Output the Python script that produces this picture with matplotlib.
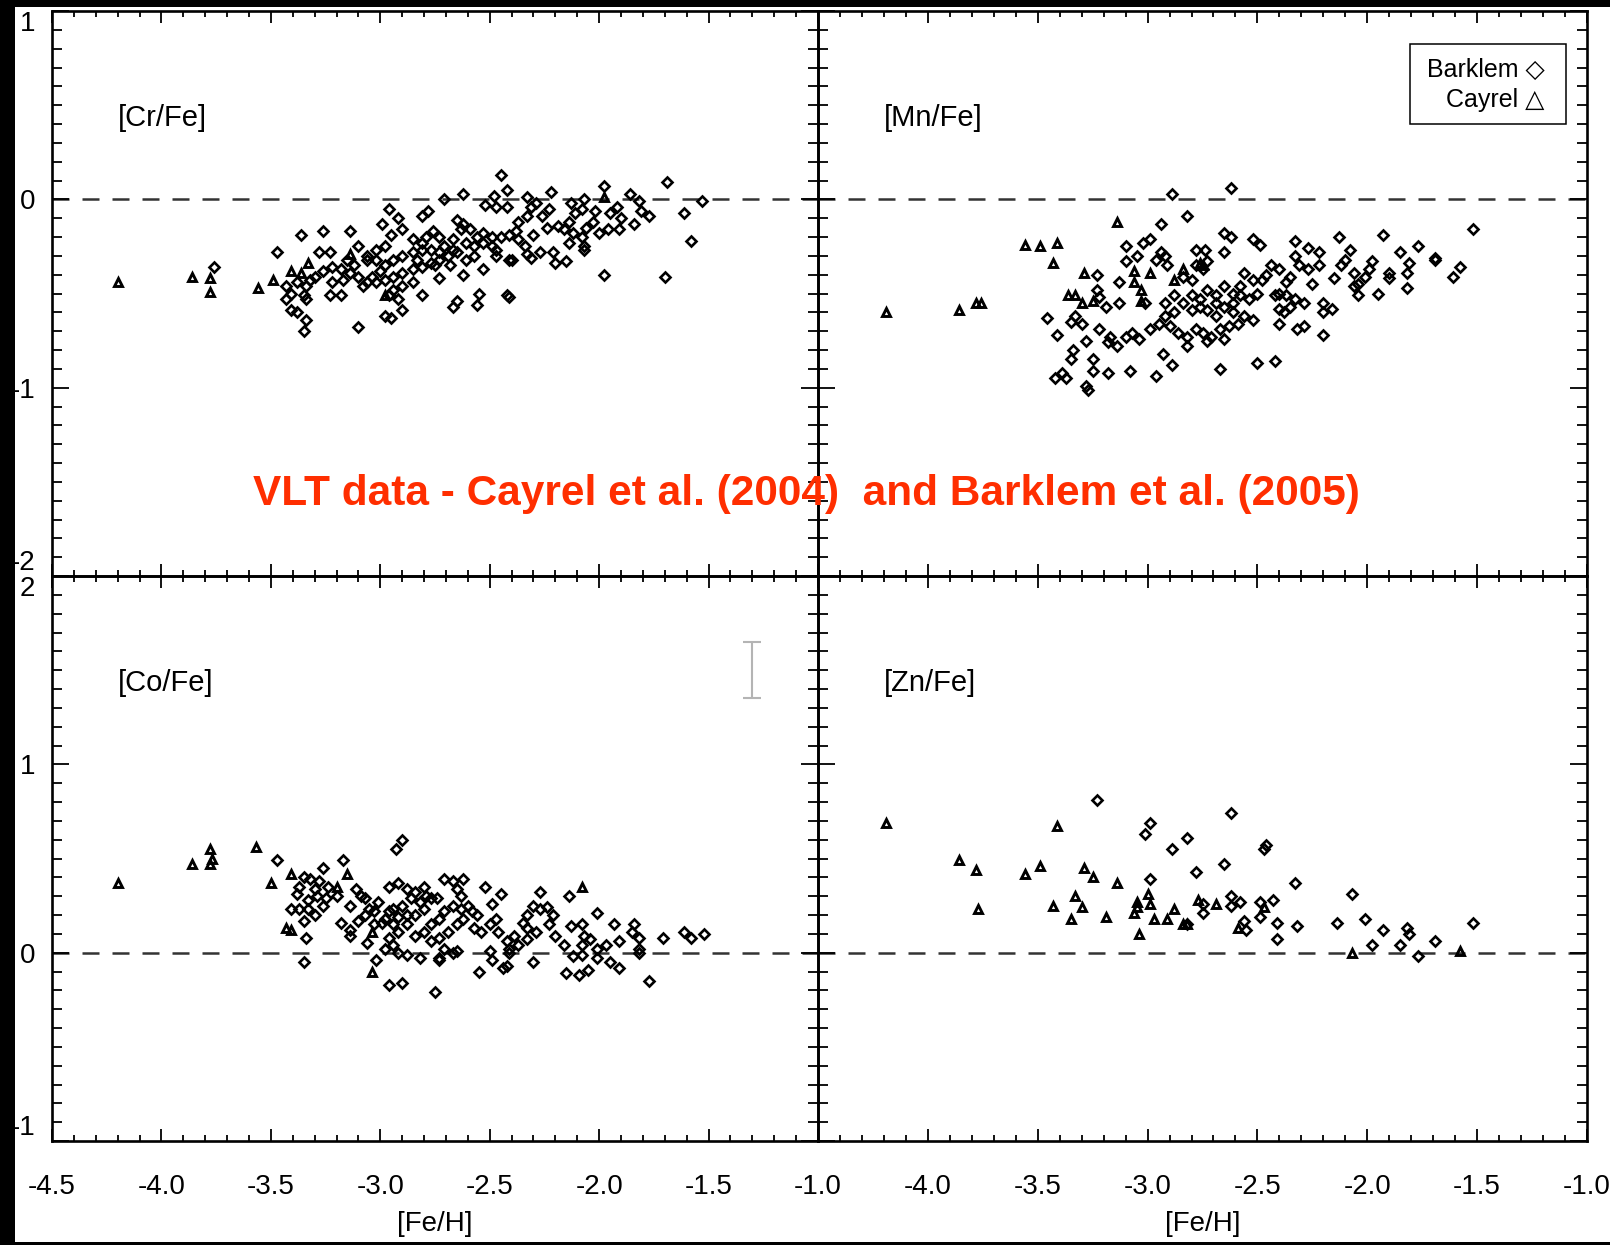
import numpy as np
import matplotlib.pyplot as plt
from matplotlib.patches import Rectangle
from matplotlib.ticker import MultipleLocator

plt.rcParams['font.family'] = ['Liberation Sans', 'DejaVu Sans']
plt.rcParams['axes.unicode_minus'] = False

# ---- [Cr/Fe] ----
cr_barklem_feh = [-2.45, -2.42, -1.98, -1.69, -2.22, -2.33, -2.48, -2.62, -2.71, -1.86, -1.82, -2.07, -2.13, -1.53,
                  -2.96, -2.78, -2.81, -2.92, -2.99, -2.52, -2.47, -2.42, -2.31, -2.29, -2.23, -2.11, -2.08, -2.02,
                  -1.95, -1.92, -1.90, -1.81, -1.77, -1.61, -1.84, -1.96, -1.91, -2.03, -2.06, -2.14, -2.19, -2.26,
                  -2.37, -2.33, -2.38, -2.30, -2.24, -2.16, -2.12, -2.08, -2.00, -2.14, -2.07, -2.07, -1.58, -1.98,
                  -1.70, -2.65, -2.62, -2.63, -2.59, -2.56, -2.53, -2.49, -2.45, -2.41, -2.37, -2.34, -2.27, -2.21,
                  -2.33, -2.31, -2.20, -2.15, -2.40, -2.47, -2.49, -2.53, -2.57, -2.61, -2.67, -2.73, -2.76, -2.79,
                  -2.81, -2.85, -2.90, -2.95, -2.98, -3.02, -3.06, -3.10, -3.14, -3.26, -3.36, -3.47, -3.28, -3.23,
                  -3.15, -3.12, -3.06, -3.02, -2.98, -2.94, -2.90, -2.85, -2.81, -2.77, -2.73, -2.69, -2.65, -2.61,
                  -2.57, -2.73, -2.77, -2.81, -2.85, -2.90, -2.94, -2.98, -3.02, -3.06, -3.08, -3.10, -3.14, -3.18,
                  -3.22, -3.26, -3.30, -3.32, -3.34, -3.38, -3.43, -3.41, -3.35, -3.34, -3.43, -3.41, -3.38, -3.34,
                  -3.35, -3.23, -3.18, -3.17, -3.22, -3.10, -2.98, -2.95, -2.90, -2.81, -2.73, -2.67, -2.65, -2.56,
                  -2.55, -2.53, -2.62, -2.68, -2.42, -2.41, -2.41, -2.47, -2.85, -2.90, -2.94, -2.92, -2.96, -3.04,
                  -3.00, -2.83, -2.75, -2.71, -2.67, -3.76]
cr_barklem = [0.13, 0.05, 0.07, 0.09, 0.04, 0.01, 0.02, 0.03, 0.00, 0.03, -0.01, 0.00, -0.02, -0.01,
              -0.05, -0.06, -0.09, -0.10, -0.13, -0.03, -0.04, -0.04, -0.04, -0.02, -0.05, -0.07, -0.05, -0.06,
              -0.07, -0.04, -0.10, -0.06, -0.09, -0.07, -0.13, -0.16, -0.16, -0.12, -0.15, -0.12, -0.14, -0.09,
              -0.12, -0.09, -0.17, -0.19, -0.15, -0.16, -0.18, -0.20, -0.18, -0.23, -0.25, -0.27, -0.22, -0.40,
              -0.41, -0.11, -0.13, -0.16, -0.16, -0.20, -0.18, -0.20, -0.20, -0.19, -0.21, -0.25, -0.28, -0.28,
              -0.29, -0.31, -0.34, -0.33, -0.32, -0.27, -0.25, -0.23, -0.25, -0.23, -0.21, -0.20, -0.17, -0.20,
              -0.23, -0.21, -0.16, -0.19, -0.25, -0.27, -0.30, -0.25, -0.17, -0.17, -0.19, -0.28, -0.28, -0.28,
              -0.32, -0.35, -0.32, -0.32, -0.35, -0.32, -0.30, -0.28, -0.27, -0.27, -0.28, -0.30, -0.28, -0.32,
              -0.30, -0.32, -0.34, -0.36, -0.37, -0.39, -0.41, -0.43, -0.44, -0.44, -0.46, -0.41, -0.39, -0.37,
              -0.36, -0.38, -0.41, -0.43, -0.46, -0.44, -0.46, -0.50, -0.51, -0.53, -0.53, -0.59, -0.60, -0.64,
              -0.70, -0.51, -0.51, -0.43, -0.44, -0.68, -0.62, -0.63, -0.59, -0.51, -0.42, -0.57, -0.54, -0.56,
              -0.50, -0.37, -0.40, -0.35, -0.51, -0.52, -0.32, -0.30, -0.44, -0.46, -0.48, -0.53, -0.51, -0.41,
              -0.38, -0.32, -0.35, -0.25, -0.27, -0.36]
cr_cayrel_feh = [-4.20, -3.86, -3.78, -3.78, -3.56, -3.49, -3.41, -3.36, -3.33, -3.14, -2.98, -1.98]
cr_cayrel = [-0.44, -0.41, -0.42, -0.49, -0.47, -0.43, -0.38, -0.39, -0.34, -0.29, -0.51, 0.01]

# ---- [Mn/Fe] ----
mn_barklem_feh = [-2.89, -2.62, -2.82, -2.94, -1.52, -1.93, -2.13, -2.65, -2.62, -2.52, -2.49, -2.33, -2.27, -2.22,
                  -2.08, -1.85, -1.77, -1.69, -1.69, -1.58, -1.61, -1.81, -1.82, -1.82, -1.90, -1.90, -1.95, -1.98,
                  -1.99, -2.01, -2.04, -2.04, -2.06, -2.10, -2.12, -2.15, -2.06, -2.25, -2.27, -2.22, -2.31, -2.33,
                  -2.35, -2.37, -2.40, -2.44, -2.46, -2.48, -2.52, -2.56, -2.58, -2.61, -2.65, -2.69, -2.73, -2.75,
                  -2.78, -2.80, -2.84, -2.78, -2.74, -2.65, -2.73, -2.99, -3.02, -3.10, -2.94, -2.92, -3.10, -3.05,
                  -2.96, -2.91, -3.23, -3.23, -3.13, -3.13, -3.01, -3.22, -3.19, -3.46, -3.35, -3.33, -3.30, -3.22,
                  -3.17, -3.18, -3.14, -3.10, -3.07, -3.04, -2.99, -2.95, -2.92, -2.88, -2.90, -2.86, -2.82, -2.78,
                  -2.75, -2.71, -2.67, -2.63, -2.59, -2.56, -2.52, -2.61, -2.69, -2.73, -2.76, -2.80, -2.84, -2.92,
                  -2.88, -2.80, -2.76, -2.69, -2.65, -2.61, -2.58, -2.54, -2.50, -2.40, -2.37, -2.33, -2.29, -2.40,
                  -2.35, -2.38, -2.42, -2.40, -2.32, -2.29, -2.20, -2.20, -2.16, -2.20, -3.41, -3.28, -3.34, -3.35,
                  -3.25, -3.25, -3.18, -3.08, -2.96, -2.93, -2.89, -3.42, -3.39, -3.37, -3.28, -3.27, -2.67, -2.50,
                  -2.42, -2.82, -2.73, -2.65]
mn_barklem = [0.03, 0.06, -0.09, -0.13, -0.16, -0.19, -0.20, -0.18, -0.20, -0.21, -0.24, -0.22, -0.26, -0.28,
              -0.27, -0.28, -0.25, -0.31, -0.32, -0.36, -0.41, -0.34, -0.39, -0.47, -0.39, -0.42, -0.50, -0.33,
              -0.37, -0.41, -0.45, -0.51, -0.46, -0.32, -0.35, -0.42, -0.39, -0.45, -0.37, -0.35, -0.35, -0.30,
              -0.41, -0.44, -0.37, -0.35, -0.40, -0.43, -0.43, -0.39, -0.46, -0.50, -0.46, -0.51, -0.48, -0.37,
              -0.35, -0.43, -0.41, -0.27, -0.27, -0.28, -0.33, -0.21, -0.23, -0.25, -0.28, -0.30, -0.33, -0.30,
              -0.32, -0.35, -0.40, -0.48, -0.44, -0.55, -0.55, -0.52, -0.57, -0.63, -0.65, -0.62, -0.66, -0.69,
              -0.73, -0.76, -0.78, -0.73, -0.71, -0.74, -0.69, -0.66, -0.62, -0.60, -0.67, -0.71, -0.73, -0.69,
              -0.71, -0.73, -0.69, -0.67, -0.66, -0.62, -0.64, -0.60, -0.62, -0.59, -0.57, -0.59, -0.55, -0.55,
              -0.51, -0.51, -0.53, -0.55, -0.57, -0.55, -0.51, -0.53, -0.50, -0.50, -0.51, -0.53, -0.55, -0.58,
              -0.57, -0.60, -0.51, -0.66, -0.69, -0.67, -0.55, -0.60, -0.58, -0.72, -0.72, -0.75, -0.80, -0.85,
              -0.85, -0.91, -0.92, -0.91, -0.94, -0.82, -0.88, -0.95, -0.92, -0.95, -0.99, -1.01, -0.90, -0.87,
              -0.86, -0.78, -0.75, -0.74]
mn_cayrel_feh = [-4.19, -3.86, -3.78, -3.76, -3.56, -3.49, -3.41, -3.43, -3.14, -3.29, -3.36, -3.33,
                 -3.30, -3.25, -3.06, -2.99, -3.06, -3.03, -2.88, -2.84, -2.76, -2.75, -3.03]
mn_cayrel = [-0.60, -0.59, -0.55, -0.55, -0.24, -0.25, -0.23, -0.34, -0.12, -0.39, -0.51, -0.51,
             -0.55, -0.54, -0.38, -0.39, -0.44, -0.54, -0.43, -0.37, -0.34, -0.35, -0.48]

# ---- [Co/Fe] ----
co_barklem_feh = [-2.90, -2.93, -3.47, -3.17, -3.26, -3.35, -3.32, -3.28, -3.37, -3.30, -3.24, -3.38, -3.29, -3.25,
                  -3.20, -3.33, -3.26, -3.41, -3.37, -3.33, -3.30, -3.35, -3.34, -3.18, -3.14, -3.14, -3.14, -3.11,
                  -3.09, -3.07, -3.05, -3.10, -3.07, -3.03, -3.01, -2.98, -2.96, -2.96, -2.92, -2.88, -2.84, -2.80,
                  -2.79, -2.82, -2.86, -2.90, -2.94, -2.92, -2.88, -2.84, -2.80, -2.77, -2.74, -2.71, -2.67, -2.65,
                  -2.63, -2.62, -2.67, -2.71, -2.73, -2.77, -2.80, -2.84, -2.88, -2.92, -2.96, -2.94, -2.99, -3.03,
                  -3.06, -2.98, -2.94, -2.92, -2.88, -2.82, -2.73, -2.77, -2.73, -2.69, -2.65, -2.62, -2.58, -2.63,
                  -2.60, -2.56, -2.57, -2.54, -2.50, -2.47, -2.46, -2.49, -2.45, -2.52, -2.27, -2.14, -2.30, -2.27,
                  -2.24, -2.21, -2.33, -2.35, -2.33, -2.39, -2.42, -2.41, -2.37, -2.33, -2.29, -2.23, -2.20, -2.16,
                  -2.13, -2.08, -2.07, -2.08, -2.01, -2.04, -2.01, -1.97, -1.93, -1.91, -1.84, -1.85, -1.82, -1.82,
                  -1.82, -1.71, -1.61, -1.58, -1.52, -2.71, -2.67, -2.65, -2.50, -2.49, -2.55, -2.44, -2.42, -2.30,
                  -2.15, -2.09, -2.05, -2.12, -2.08, -2.01, -1.95, -1.91, -1.77, -2.41, -2.96, -2.90, -2.75, -3.02,
                  -3.35, -2.73]
co_barklem = [0.60, 0.55, 0.49, 0.49, 0.45, 0.40, 0.39, 0.38, 0.35, 0.34, 0.35, 0.31, 0.30, 0.29,
              0.30, 0.28, 0.25, 0.23, 0.23, 0.23, 0.20, 0.17, 0.08, 0.16, 0.12, 0.09, 0.25, 0.34,
              0.30, 0.29, 0.23, 0.17, 0.20, 0.22, 0.27, 0.18, 0.22, 0.35, 0.37, 0.34, 0.32, 0.35,
              0.30, 0.27, 0.29, 0.25, 0.23, 0.19, 0.20, 0.20, 0.23, 0.29, 0.29, 0.39, 0.38, 0.34,
              0.30, 0.39, 0.25, 0.22, 0.18, 0.15, 0.11, 0.09, 0.15, 0.11, 0.08, 0.15, 0.16, 0.15,
              0.05, 0.02, 0.04, 0.00, -0.01, -0.03, -0.03, 0.06, 0.08, 0.11, 0.15, 0.18, 0.22, 0.23,
              0.25, 0.20, 0.13, 0.11, 0.15, 0.18, 0.11, 0.26, 0.31, 0.35, 0.32, 0.30, 0.25, 0.23,
              0.24, 0.20, 0.20, 0.16, 0.13, 0.09, 0.06, 0.02, 0.04, 0.07, 0.11, 0.15, 0.09, 0.04,
              0.14, 0.15, 0.09, 0.04, 0.21, 0.07, 0.02, 0.04, 0.15, 0.06, 0.15, 0.11, 0.08, 0.02,
              0.00, 0.08, 0.11, 0.08, 0.10, 0.02, 0.00, 0.01, 0.01, -0.04, -0.10, -0.08, -0.07, -0.05,
              -0.11, -0.12, -0.09, -0.02, -0.01, -0.03, -0.05, -0.08, -0.15, 0.00, -0.17, -0.16, -0.21, -0.04,
              -0.05, -0.04]
co_cayrel_feh = [-4.20, -3.86, -3.78, -3.78, -3.77, -3.57, -3.50, -3.41, -3.15, -3.20, -3.43, -3.41,
                 -3.04, -3.04, -2.08]
co_cayrel = [0.37, 0.47, 0.47, 0.55, 0.50, 0.56, 0.37, 0.42, 0.42, 0.35, 0.13, 0.12,
             0.11, -0.10, 0.35]

# ---- [Zn/Fe] ----
zn_barklem_feh = [-3.23, -2.62, -2.99, -3.01, -2.82, -2.89, -2.46, -2.47, -2.65, -2.78, -2.99, -2.33, -2.07, -2.62,
                  -2.58, -2.49, -2.43, -2.75, -2.75, -2.62, -2.49, -2.56, -2.55, -2.41, -2.32, -2.14, -2.01, -1.93,
                  -1.82, -1.81, -1.52, -2.41, -1.69, -1.98, -1.85, -1.77, -2.82]
zn_barklem = [0.81, 0.74, 0.69, 0.63, 0.61, 0.55, 0.57, 0.55, 0.47, 0.43, 0.39, 0.37, 0.31, 0.30,
              0.27, 0.27, 0.28, 0.26, 0.21, 0.25, 0.19, 0.17, 0.12, 0.16, 0.14, 0.16, 0.18, 0.12,
              0.13, 0.10, 0.16, 0.07, 0.06, 0.04, 0.04, -0.02, 0.15]
zn_cayrel_feh = [-4.19, -3.86, -3.78, -3.77, -3.56, -3.49, -3.41, -3.43, -3.35, -3.33, -3.30, -3.29,
                 -3.25, -3.19, -3.14, -3.06, -3.05, -3.05, -3.00, -2.99, -3.04, -2.97, -2.91, -2.88,
                 -2.84, -2.82, -2.77, -2.69, -2.59, -2.47, -2.07, -1.58]
zn_cayrel = [0.69, 0.49, 0.44, 0.23, 0.42, 0.46, 0.67, 0.25, 0.18, 0.30, 0.24, 0.45,
             0.40, 0.19, 0.37, 0.21, 0.24, 0.27, 0.31, 0.26, 0.10, 0.18, 0.18, 0.23,
             0.15, 0.15, 0.28, 0.26, 0.13, 0.24, 0.00, 0.01]

panels = [
    ('[Cr/Fe]', cr_barklem_feh, cr_barklem, cr_cayrel_feh, cr_cayrel),
    ('[Mn/Fe]', mn_barklem_feh, mn_barklem, mn_cayrel_feh, mn_cayrel),
    ('[Co/Fe]', co_barklem_feh, co_barklem, co_cayrel_feh, co_cayrel),
    ('[Zn/Fe]', zn_barklem_feh, zn_barklem, zn_cayrel_feh, zn_cayrel),
]

W, H = 1610, 1245
fig = plt.figure(figsize=(W / 100, H / 100), dpi=100, facecolor='black')
# white page inside the black screenshot border
fig.add_artist(Rectangle((15 / W, 3 / H), (W - 15) / W, (1242 - 7) / H,
                         transform=fig.transFigure, facecolor='white', edgecolor='none', zorder=-10))

x0s = [52 / W, 818 / W]
aw = 766 / W
ah = 565 / H
y0s = [1 - 576 / H, 1 - 1141 / H]

xt = np.arange(-4.5, -0.95, 0.5)

axes = []
for i, (name, bx, by, cx, cy) in enumerate(panels):
    row, col = divmod(i, 2)
    ax = fig.add_axes([x0s[col], y0s[row], aw if col == 0 else 769 / W, ah])
    ax.set_facecolor('none')
    ax.set_xlim(-4.5, -1.0)
    if row == 0:
        ax.set_ylim(-2, 1)
        yt = [-2, -1, 0, 1]
    else:
        ax.set_ylim(-1, 2)
        yt = [-1, 0, 1, 2]
    ax.set_xticks(xt)
    ax.xaxis.set_minor_locator(MultipleLocator(0.1))
    ax.set_yticks(yt)
    ax.yaxis.set_minor_locator(MultipleLocator(0.1))
    ax.tick_params(which='both', direction='in', top=True, right=True, width=1.3, labelsize=20)
    ax.tick_params(axis='x', which='major', length=8.5, pad=24)
    ax.tick_params(axis='x', which='minor', length=4.3)
    ax.tick_params(axis='y', which='major', length=12, pad=12)
    ax.tick_params(axis='y', which='minor', length=7)
    for s in ax.spines.values():
        s.set_linewidth(1.9)

    if row == 1:
        labs = [f'{v:.1f}' for v in xt]
        if col == 1:
            labs[0] = ''
        ax.set_xticklabels(labs)
        ax.set_xlabel('[Fe/H]', fontsize=20, labelpad=8)
    else:
        ax.set_xticklabels([])
    if col == 0:
        ax.set_yticklabels([str(v) for v in yt])
        tl = ax.get_yticklabels()
        tl[0].set_va('bottom')
        tl[-1].set_va('top')
    else:
        ax.set_yticklabels([])

    ax.axhline(0, color='#333333', lw=1.8, ls=(0, (6.8, 5.2)), zorder=1)
    ax.plot(bx, by, ls='none', marker='D', ms=4.8, mfc='none', mec='black', mew=1.9, zorder=3)
    ax.plot(cx, cy, ls='none', marker='^', ms=6.2, mfc='none', mec='black', mew=2.1, zorder=3)
    ax.text(0.086, 0.797, name, transform=ax.transAxes, fontsize=21, va='baseline', ha='left')
    axes.append(ax)

# typical error bar in the [Co/Fe] panel
axes[2].errorbar([-1.3], [1.5], yerr=[0.15], color='#b4b4b4', lw=1.5, capsize=6.5, capthick=1.5)

# legend box in [Mn/Fe] panel
axes[1].add_patch(Rectangle((0.770, 0.800), 0.203, 0.142, transform=axes[1].transAxes,
                            facecolor='none', edgecolor='black', lw=1.1))
axes[1].text(0.945, 0.883, 'Barklem \u25c7', transform=axes[1].transAxes, fontsize=18,
             ha='right', va='baseline')
axes[1].text(0.945, 0.830, 'Cayrel \u25b3', transform=axes[1].transAxes, fontsize=18,
             ha='right', va='baseline')

fig.text(806 / W, 1 - 505 / H, 'VLT data - Cayrel et al. (2004)  and Barklem et al. (2005)',
         color='#ff2e00', fontsize=30.5, fontweight='bold', ha='center', va='baseline')

fig.savefig('out.png', dpi=100, facecolor=fig.get_facecolor())
